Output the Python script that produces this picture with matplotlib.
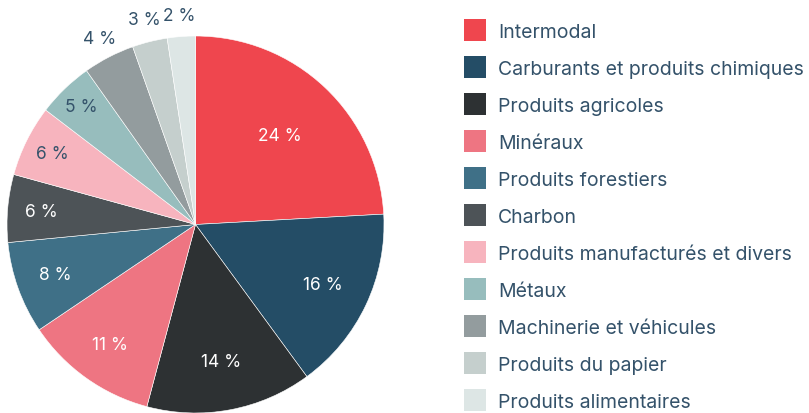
import matplotlib
matplotlib.use("Agg")
import matplotlib.pyplot as plt
from matplotlib.patches import Rectangle
import numpy as np

categories = ["Intermodal", "Carburants et produits chimiques", "Produits agricoles",
              "Minéraux", "Produits forestiers", "Charbon",
              "Produits manufacturés et divers", "Métaux", "Machinerie et véhicules",
              "Produits du papier", "Produits alimentaires"]
values = [24.1, 15.8, 14.2, 11.4, 7.9, 5.8, 6.1, 4.8, 4.4, 3.0, 2.4]
colors = ["#ef464e", "#244d66", "#2d3133", "#ee7582", "#3f7087", "#4d5357",
          "#f7b4be", "#97bdbd", "#939c9e", "#c5cfcd", "#dde6e5"]
label_colors = ["white"] * 6 + ["#34526a"] * 5
label_dist = [0.65, 0.75, 0.74, 0.78, 0.79, 0.82, 0.85, 0.87, 1.11, 1.12, 1.11]

plt.rcParams['font.family'] = ['Inter', 'DejaVu Sans']
text_color = "#34526a"

W, H = 809, 414
fig = plt.figure(figsize=(W / 100, H / 100), dpi=100)

cx, cy, r = 195.5, 225.5, 188.5
ax = fig.add_axes([(cx - r) / W, (H - cy - r) / H, 2 * r / W, 2 * r / H])
wedges, _ = ax.pie(values, colors=colors, startangle=90, counterclock=False,
                   radius=1, wedgeprops=dict(edgecolor="white", linewidth=0.4))
ax.set_xlim(-1, 1)
ax.set_ylim(-1, 1)
ax.axis("off")

for w, v, c, d in zip(wedges, values, label_colors, label_dist):
    ang = np.deg2rad((w.theta1 + w.theta2) / 2)
    ax.text(d * np.cos(ang), d * np.sin(ang), f"{round(v)} %", color=c,
            ha="center", va="center", fontsize=12.5, clip_on=False)

# legend
sq = 22
x0 = 464
y_first = 31
step = 37
for i, (cat, col) in enumerate(zip(categories, colors)):
    yc = y_first + i * step
    fig.add_artist(Rectangle((x0 / W, (H - yc - sq / 2) / H), sq / W, sq / H,
                             transform=fig.transFigure, facecolor=col, edgecolor="none"))
    fig.text(498 / W, (H - yc) / H, cat, color=text_color, fontsize=14,
             ha="left", va="center_baseline")

fig.savefig("out.png", dpi=100)
